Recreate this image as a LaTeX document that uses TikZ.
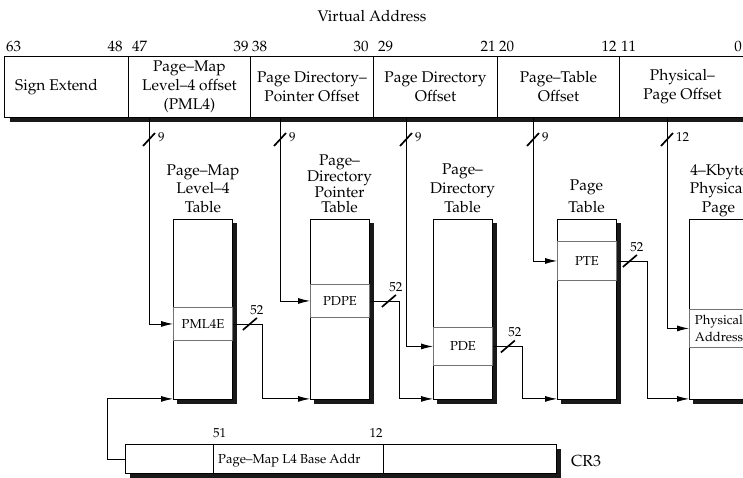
\documentclass[tikz,border=0pt]{standalone}
\usepackage[T1]{fontenc}
\usepackage{mathpazo}
\usetikzlibrary{arrows.meta,calc}

\tikzset{
  big/.style={font=\fontsize{15.5}{19}\selectfont},
  small/.style={font=\fontsize{13}{15}\selectfont},
  num/.style={font=\fontsize{15}{18}\selectfont, inner sep=0pt},
  field/.style={draw, fill=white, minimum height=61pt, inner sep=0pt, align=center, anchor=north west, big, line width=0.9pt},
  tbl/.style={draw, fill=white, minimum width=59pt, minimum height=180pt, inner sep=0pt, anchor=north west, line width=0.9pt},
  entry/.style={draw=black!55, fill=white, minimum width=59pt, inner sep=0pt, anchor=north west, small, align=center, line width=0.9pt},
  ttl/.style={big, align=center, inner sep=0pt, anchor=south},
  arr/.style={-{Latex[length=12pt,width=6pt]}, line width=0.9pt},
  slashmark/.style={line width=1.7pt},
  lbl/.style={font=\fontsize{13}{15}\selectfont, inner sep=0pt},
  shade/.style={fill=black!90},
}

\begin{document}
\begin{tikzpicture}[x=1pt,y=-1pt]
\useasboundingbox (0,0) rectangle (743,478);

% title
\node[big] (va) at (372,16) {Virtual Address};

% header shadow and fields
\fill[shade] (10,61) rectangle (750,122.5);
\node[field, minimum width=124pt] (f1) at (4,56) {\hspace*{-20pt}Sign Extend};
\node[field, minimum width=122pt] (f2) at (128,56) {Page--Map\\Level--4 offset\\(PML4)};
\node[field, minimum width=123pt] (f3) at (250,56) {Page Directory--\\Pointer Offset};
\node[field, minimum width=124pt] (f4) at (373,56) {Page Directory\\Offset};
\node[field, minimum width=122pt] (f5) at (497,56) {Page--Table\\Offset};
\node[field, minimum width=126pt] (f6) at (619,56) {Physical--\\Page Offset};

% bit numbers
\node[num, anchor=south west] (n63) at ($(f1.north west)+(2,-4)$) {63};
\node[num, anchor=south east] (n48) at ($(f1.north east)+(-6,-4)$) {48};
\node[num, anchor=south west] (n47) at ($(f2.north west)+(4,-4)$) {47};
\node[num, anchor=south east] (n39) at ($(f2.north east)+(-2,-4)$) {39};
\node[num, anchor=south west] (n38) at ($(f3.north west)+(2,-4)$) {38};
\node[num, anchor=south east] (n30) at ($(f3.north east)+(-5,-4)$) {30};
\node[num, anchor=south west] (n29) at ($(f4.north west)+(5,-4)$) {29};
\node[num, anchor=south east] (n21) at ($(f4.north east)+(-2,-4)$) {21};
\node[num, anchor=south west] (n20) at ($(f5.north west)+(2,-4)$) {20};
\node[num, anchor=south east] (n12) at ($(f5.north east)+(-3,-4)$) {12};
\node[num, anchor=south west] (n11) at ($(f6.north west)+(2,-4)$) {11};
\node[num, anchor=south east] (n0) at (742,52) {0};

% table shadows
\foreach \x in {173,310,433,557,689}{
  \fill[shade] (\x+4,223) rectangle (\x+63.5,404);
}
% tables
\node[tbl] (t1) at (173,219) {};
\node[tbl] (t2) at (310,219) {};
\node[tbl] (t3) at (433,219) {};
\node[tbl] (t4) at (557,219) {};
\node[tbl] (t5) at (689,219) {};

% table titles
\node[ttl, font=\fontsize{15.5}{18.5}\selectfont] (h1) at (203,213) {Page--Map\\Level--4\\Table};
\node[ttl, font=\fontsize{15.5}{14.5}\selectfont] (h2) at (339.5,213) {Page--\\Directory\\Pointer\\Table};
\node[ttl, font=\fontsize{15.5}{19}\selectfont] (h3) at (462.5,213) {Page--\\Directory\\Table};
\node[ttl, font=\fontsize{15.5}{22}\selectfont] (h4) at (586.5,213) {Page\\Table};
\node[ttl, font=\fontsize{15.5}{18.5}\selectfont] (h5) at (718.5,217) {4--Kbyte\\Physical\\Page};

% entries
\node[entry, minimum height=33pt] (e1) at (173,307) {PML4E};
\node[entry, minimum height=33pt] (e2) at (310,284) {PDPE};
\node[entry, minimum height=38pt] (e3) at (433,327) {PDE};
\node[entry, minimum height=39pt] (e4) at (557,241) {PTE};
\node[entry, minimum height=38pt, font=\fontsize{13}{17}\selectfont] (e5) at (689,309) {Physical\\Address};

% index lines from the virtual address
\coordinate (v1) at (149,117);
\coordinate (v2) at (280,117);
\coordinate (v3) at (406,117);
\coordinate (v4) at (533,117);
\coordinate (v5) at (667,117);
\draw[arr] (v1) |- (e1.west);
\draw[arr] (v2) |- (e2.west);
\draw[arr] (v3) |- (e3.west);
\draw[arr] (v4) |- (e4.west);
\draw[arr] (v5) |- (e5.west);

% slash marks on index lines
\foreach \v/\t in {v1/9, v2/9, v3/9, v4/9, v5/12}{
  \draw[slashmark] ($(\v)+(-6,29)$) -- ++(12,-13);
  \node[lbl, anchor=west] (l\v) at ($(\v)+(9,20.5)$) {\t};
}

% base-address lines between tables
\draw[arr] (e1.east) -- ++(30,0) |- ([yshift=1pt]t2.south west);
\draw[arr] (e2.east) -- ++(30,0) |- ([yshift=1pt]t3.south west);
\draw[arr] (e3.east) -- ++(30,0) |- ([yshift=1pt]t4.south west);
\draw[arr] (e4.east) -- ++(31,0) |- ([yshift=1pt]t5.south west);

\foreach \e/\dx in {e1/17, e2/19, e3/15, e4/13}{
  \draw[slashmark] ($(\e.east)+(\dx,0)+(-7,6)$) -- ++(14,-12);
  \node[lbl, anchor=south] (m\e) at ($(\e.east)+(\dx,0)+(7,-9)$) {52};
}

% CR3 register
\fill[shade] (130,449) rectangle (561,478);
\node[draw, fill=white, minimum width=88pt, minimum height=29pt, inner sep=0pt, anchor=north west, line width=0.9pt] (r1) at (125,444) {};
\node[draw, fill=white, minimum width=170pt, minimum height=29pt, inner sep=0pt, anchor=north west, line width=0.9pt] (r2) at (213,444) {};
\node[draw, fill=white, minimum width=173pt, minimum height=29pt, inner sep=0pt, anchor=north west, line width=0.9pt] (r3) at (383,444) {};
\node[small, anchor=west, inner sep=0pt] (rt) at ($(r2.west)+(5,2)$) {Page--Map L4 Base Addr};
\node[lbl, anchor=south west] (r51) at ($(r2.north west)+(0,-6)$) {51};
\node[lbl, anchor=south east] (r12) at ($(r2.north east)+(-1,-6)$) {12};
\node[font=\fontsize{16}{19}\selectfont, anchor=west, inner sep=0pt] (cr3) at ($(r3.east)+(14,2)$) {CR3};

\draw[arr] (r1.west) -- ++(-18,0) |- ([yshift=1pt]t1.south west);
\end{tikzpicture}
\end{document}
